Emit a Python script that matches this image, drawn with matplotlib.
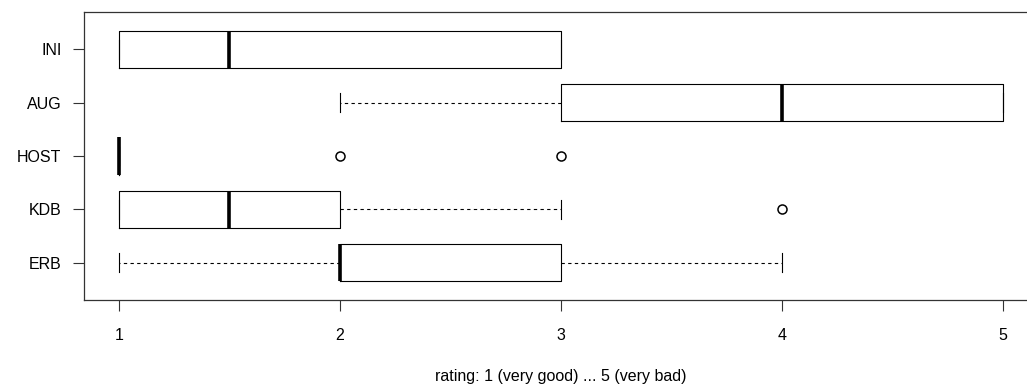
import matplotlib
matplotlib.use("Agg")
import matplotlib.pyplot as plt

plt.rcParams['font.family'] = ['Liberation Sans', 'DejaVu Sans']

# groups from bottom to top
groups = ["ERB", "KDB", "HOST", "AUG", "INI"]
whislo = [1, 1, 1, 2, 1]
q1 = [2, 1, 1, 3, 1]
med = [2, 1.5, 1, 4, 1.5]
q3 = [3, 2, 1, 5, 3]
whishi = [4, 3, 1, 5, 3]
fliers = [[], [4], [2, 3], [], []]

stats = []
for i, g in enumerate(groups):
    stats.append(dict(label=g, whislo=whislo[i], q1=q1[i], med=med[i],
                      q3=q3[i], whishi=whishi[i], fliers=fliers[i]))

fig = plt.figure(figsize=(10.27, 3.89), dpi=100)
ax = fig.add_axes([83.6 / 1027, 1 - 300 / 389, (1038 - 83.6) / 1027, 288 / 389])

lw = 0.8
ax.bxp(stats, positions=range(1, len(groups) + 1), vert=False,
       widths=0.7, capwidths=0.35,
       boxprops=dict(color="black", linewidth=lw),
       whiskerprops=dict(color="black", linewidth=lw, linestyle=(0, (3, 3))),
       capprops=dict(color="black", linewidth=lw),
       medianprops=dict(color="black", linewidth=2.6, solid_capstyle="butt"),
       flierprops=dict(marker="o", markerfacecolor="none", markeredgecolor="black",
                       markersize=6.5, markeredgewidth=1.1))

ax.set_xlim(0.84, 5.16)
ax.set_ylim(0.3, 5.7)
ax.set_xticks([1, 2, 3, 4, 5])
ax.set_yticks(range(1, len(groups) + 1))
ax.set_yticklabels(groups)
ax.tick_params(axis="both", length=8, width=0.8, labelsize=11.5, color="#333333")
ax.tick_params(axis="x", pad=12)
ax.tick_params(axis="y", pad=8)
for s in ax.spines.values():
    s.set_linewidth(0.9)
    s.set_color("#333333")
ax.set_xlabel("rating: 1 (very good) ... 5 (very bad)", fontsize=11.5, labelpad=19)

fig.savefig("out.png", dpi=100)
